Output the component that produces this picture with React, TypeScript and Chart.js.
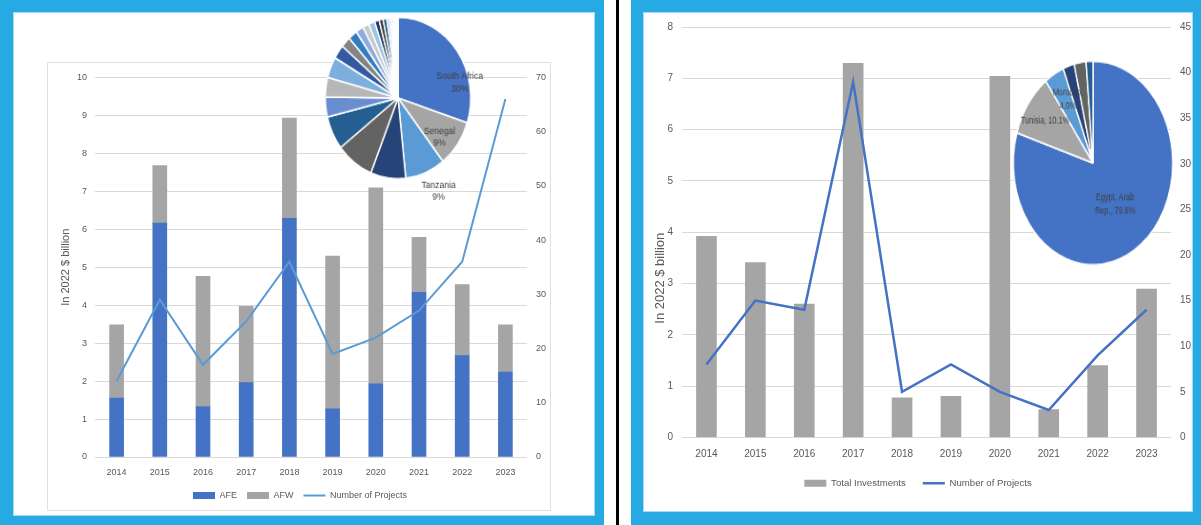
import React, { useEffect, useRef } from 'react';
import { Chart, registerables } from 'chart.js';

Chart.register(...registerables);

const FONT = "'Liberation Sans', Arial, sans-serif";
Chart.defaults.font.family = FONT;
Chart.defaults.color = '#595959';

// ---------- DATA ----------
const YEARS = ['2014', '2015', '2016', '2017', '2018', '2019', '2020', '2021', '2022', '2023'];

// Left panel (AFE / AFW)
const AFE_INVEST = [1.55, 6.16, 1.33, 1.96, 6.29, 1.27, 1.93, 4.34, 2.67, 2.24];
const AFW_INVEST = [1.93, 1.52, 3.43, 2.01, 2.64, 4.02, 5.16, 1.45, 1.87, 1.24];
const AF_PROJECTS = [14, 29, 17, 25, 36, 19, 22, 27, 36, 66];

// Right panel (North Africa)
const NA_TOTAL_INVEST = [3.92, 3.41, 2.6, 7.29, 0.77, 0.8, 7.04, 0.54, 1.4, 2.89];
const NA_PROJECTS = [8, 15, 14, 39, 5, 8, 5, 3, 9, 14];

// Left inset pie (country shares, %)
const AF_PIE_NAMES = [
  'South Africa', 'Senegal', 'Tanzania', 'Other 1', 'Other 2', 'Other 3', 'Other 4', 'Other 5',
  'Other 6', 'Other 7', 'Other 8', 'Other 9', 'Other 10', 'Other 11', 'Other 12', 'Other 13',
  'Other 14', 'Other 15', 'Other 16', 'Other 17', 'Other 18', 'Other 19', 'Other 20', 'Other 21', 'Other 22',
];
const AF_PIE_SHARES = [30, 9.4, 8.9, 7.8, 8.4, 6.7, 4.0, 3.9, 4.2, 2.8, 2.2, 2.0, 1.7, 1.4, 1.4, 1.0, 0.9, 0.8, 0.6, 0.5, 0.4, 0.3, 0.3, 0.2, 0.2];
const AF_PIE_COLORS = [
  '#4472C4', '#A5A5A5', '#5B9BD5', '#264478', '#636363', '#255E91', '#698ED0', '#B7B7B7', '#7CAFDD',
  '#335AA1', '#848484', '#327DC2', '#8FAADC', '#C9C9C9', '#9DC3E6', '#203864', '#3B3B3B', '#1E4E79',
  '#A9C1E9', '#DBDBDB', '#B5D2EE', '#2F5597', '#525252', '#2E75B6', '#D6E2F5',
];

// Right inset pie (country shares, %)
const NA_PIE_NAMES = ['Egypt, Arab Rep.', 'Tunisia', 'Morocco', 'Other 1', 'Other 2', 'Other 3'];
const NA_PIE_SHARES = [79.8, 10.1, 4.0, 2.3, 2.4, 1.4];
const NA_PIE_COLORS = ['#4472C4', '#A5A5A5', '#5B9BD5', '#264478', '#636363', '#255E91'];

const Y_TITLE = 'In 2022 $ billion';

// ---------- STYLE CONSTANTS ----------
const FRAME_BLUE = '#27AAE3';
const TICK_COLOR = '#595959';
const GRID_COLOR = '#D9D9D9';

type ComboCfg = {
  padTop: number; leftWidth: number; rightWidth: number; xHeight: number;
  font: number; legendFont: number; titleFont: number; titleX: number; titleDy: number;
  leftPad: number; rightPad: number; xPad: number; legendPad: number;
  yMax: number; yStep: number; y1Max: number; y1Step: number;
};

// draws the rotated y-axis title, centred on the plot area with an optional shift
const yTitlePlugin = {
  id: 'yTitle',
  afterDraw(chart: any, _args: any, o: any) {
    const ctx = chart.ctx;
    const ca = chart.chartArea;
    ctx.save();
    ctx.translate(o.x, (ca.top + ca.bottom) / 2 + o.dy);
    ctx.rotate(-Math.PI / 2);
    ctx.font = `${o.size}px ${FONT}`;
    ctx.fillStyle = TICK_COLOR;
    ctx.textAlign = 'center';
    ctx.textBaseline = 'middle';
    ctx.fillText(o.text, 0, 0);
    ctx.restore();
  },
};

function comboOptions(p: ComboCfg): any {
  return {
    responsive: false,
    animation: false,
    layout: { padding: { top: p.padTop, left: 0, right: 0, bottom: 0 } },
    plugins: {
      legend: {
        position: 'bottom',
        labels: {
          usePointStyle: true,
          pointStyleWidth: 22,
          boxHeight: 7,
          padding: p.legendPad,
          color: TICK_COLOR,
          font: { size: p.legendFont, family: FONT },
          sort: (a: any, b: any) => a.datasetIndex - b.datasetIndex,
        },
      },
      tooltip: { enabled: false },
      yTitle: { text: Y_TITLE, size: p.titleFont, x: p.titleX, dy: p.titleDy },
    },
    scales: {
      x: {
        stacked: true,
        grid: { display: false, drawTicks: false },
        border: { display: false },
        ticks: { color: TICK_COLOR, font: { size: p.font }, padding: p.xPad, maxRotation: 0, autoSkip: false },
        afterFit: (s: any) => { s.height = p.xHeight; },
      },
      y: {
        position: 'left',
        stacked: true,
        min: 0,
        max: p.yMax,
        ticks: { stepSize: p.yStep, color: TICK_COLOR, font: { size: p.font }, padding: p.leftPad },
        grid: { color: GRID_COLOR, lineWidth: 1, drawTicks: false },
        border: { display: false },
        afterFit: (s: any) => { s.width = p.leftWidth; },
      },
      y1: {
        position: 'right',
        min: 0,
        max: p.y1Max,
        ticks: { stepSize: p.y1Step, color: TICK_COLOR, font: { size: p.font }, padding: p.rightPad },
        grid: { display: false, drawTicks: false },
        border: { display: false },
        afterFit: (s: any) => { s.width = p.rightWidth; },
      },
    },
  };
}

function leftConfig(): any {
  return {
    type: 'bar',
    data: {
      labels: YEARS,
      datasets: [
        { label: 'AFE', data: AFE_INVEST, backgroundColor: '#4472C4', borderWidth: 0, barThickness: 14, yAxisID: 'y', pointStyle: 'rect', order: 1 },
        { label: 'AFW', data: AFW_INVEST, backgroundColor: '#A5A5A5', borderWidth: 0, barThickness: 14, yAxisID: 'y', pointStyle: 'rect', order: 1 },
        {
          type: 'line', label: 'Number of Projects', data: AF_PROJECTS, yAxisID: 'y1',
          borderColor: '#5B9BD5', backgroundColor: '#5B9BD5', borderWidth: 2, pointRadius: 0,
          pointStyle: 'line', tension: 0, order: -1,
        },
      ],
    },
    options: comboOptions({
      padTop: 12, leftWidth: 47, rightWidth: 25, xHeight: 24,
      font: 9, legendFont: 9, titleFont: 11, titleX: 18, titleDy: 0,
      leftPad: 8, rightPad: 9, xPad: 10, legendPad: 10,
      yMax: 10, yStep: 1, y1Max: 70, y1Step: 10,
    }),
    plugins: [yTitlePlugin],
  };
}

function rightConfig(): any {
  return {
    type: 'bar',
    data: {
      labels: YEARS,
      datasets: [
        { label: 'Total Investments', data: NA_TOTAL_INVEST, backgroundColor: '#A5A5A5', borderWidth: 0, barThickness: 20, yAxisID: 'y', pointStyle: 'rect', order: 1 },
        {
          type: 'line', label: 'Number of Projects', data: NA_PROJECTS, yAxisID: 'y1',
          borderColor: '#4472C4', backgroundColor: '#4472C4', borderWidth: 2.5, pointRadius: 0,
          pointStyle: 'line', tension: 0, order: -1,
        },
      ],
    },
    options: comboOptions({
      padTop: 14, leftWidth: 39, rightWidth: 22, xHeight: 24,
      font: 10, legendFont: 9.6, titleFont: 13, titleX: 17, titleDy: 46,
      leftPad: 9, rightPad: 9, xPad: 11, legendPad: 17,
      yMax: 8, yStep: 1, y1Max: 45, y1Step: 5,
    }),
    plugins: [yTitlePlugin],
  };
}

// ---------- PIE LABEL PLUGIN ----------
const pieLabelPlugin = {
  id: 'pieLabels',
  afterDatasetsDraw(chart: any, _args: any, opts: any) {
    const meta = chart.getDatasetMeta(0);
    const ctx = chart.ctx;
    ctx.save();
    ctx.fillStyle = opts.color;
    ctx.font = `${opts.size}px ${FONT}`;
    ctx.textAlign = 'center';
    ctx.textBaseline = 'middle';
    for (const l of opts.items || []) {
      const arc = meta.data[l.index];
      if (!arc) continue;
      const { x, y, startAngle, endAngle, outerRadius } = arc.getProps(['x', 'y', 'startAngle', 'endAngle', 'outerRadius'], true);
      const a = (startAngle + endAngle) / 2 + (l.shift * Math.PI) / 180;
      const cx = x + Math.cos(a) * outerRadius * l.frac;
      const cy = y + Math.sin(a) * outerRadius * l.frac;
      const n = l.lines.length;
      l.lines.forEach((t: string, k: number) => ctx.fillText(t, cx, cy + (k - (n - 1) / 2) * opts.lineHeight));
    }
    ctx.restore();
  },
};

const pct0 = (v: number) => `${Math.round(v)}%`;
const pct1 = (v: number) => `${v.toFixed(1)}%`;

const AF_PIE_LABELS = [
  { index: 0, frac: 0.87, shift: 23.4, lines: [AF_PIE_NAMES[0], pct0(AF_PIE_SHARES[0])] },
  { index: 1, frac: 0.75, shift: 5.7, lines: [AF_PIE_NAMES[1], pct0(AF_PIE_SHARES[1])] },
  { index: 2, frac: 1.28, shift: -3.7, lines: [AF_PIE_NAMES[2], pct0(AF_PIE_SHARES[2])] },
];
const NA_PIE_LABELS = [
  { index: 0, frac: 0.49, shift: 2, lines: ['Egypt, Arab', `Rep., ${pct1(NA_PIE_SHARES[0])}`] },
  { index: 1, frac: 0.73, shift: -1.1, lines: [`${NA_PIE_NAMES[1]}, ${pct1(NA_PIE_SHARES[1])}`] },
  { index: 2, frac: 0.7, shift: 2.3, lines: [`${NA_PIE_NAMES[2]},`, pct1(NA_PIE_SHARES[2])] },
];

function pieConfig(names: string[], values: number[], colors: string[], pad: number, labels: any[], size: number, lineHeight: number): any {
  return {
    type: 'pie',
    data: {
      labels: names,
      datasets: [{ data: values, backgroundColor: colors, borderColor: '#FFFFFF', borderWidth: 1.5 }],
    },
    options: {
      responsive: false,
      animation: false,
      layout: { padding: pad },
      plugins: {
        legend: { display: false },
        tooltip: { enabled: false },
        pieLabels: { items: labels, color: '#404040', size, lineHeight },
      },
    },
    plugins: [pieLabelPlugin],
  };
}

// ---------- COMPONENTS ----------
function ChartCanvas({ left, top, width, height, build, transform }: {
  left: number; top: number; width: number; height: number; build: () => any; transform?: string;
}) {
  const ref = useRef<HTMLCanvasElement>(null);
  useEffect(() => {
    const chart = new Chart(ref.current as HTMLCanvasElement, build());
    return () => chart.destroy();
  }, []);
  return (
    <canvas
      ref={ref}
      width={width}
      height={height}
      style={{
        position: 'absolute', left, top, width, height,
        transform, transformOrigin: '50% 50%',
      }}
    />
  );
}

export default function App() {
  return (
    <div style={{ position: 'absolute', left: 0, top: 0, width: 1201, height: 525, background: '#FFFFFF', overflow: 'hidden' }}>
      {/* Left panel frame */}
      <div style={{ position: 'absolute', left: 0, top: 0, width: 604, height: 525, background: FRAME_BLUE }} />
      <div style={{ position: 'absolute', left: 13, top: 12, width: 582, height: 504, background: '#FFFFFF', boxShadow: 'inset 0 0 0 1px #A6DCF4' }} />
      <div style={{ position: 'absolute', left: 47, top: 62, width: 504, height: 449, boxSizing: 'border-box', border: '1px solid #E0E0E0' }} />

      {/* Divider */}
      <div style={{ position: 'absolute', left: 616, top: 0, width: 3, height: 525, background: '#000000' }} />

      {/* Right panel frame */}
      <div style={{ position: 'absolute', left: 631, top: 0, width: 570, height: 525, background: FRAME_BLUE }} />
      <div style={{ position: 'absolute', left: 643, top: 12, width: 550, height: 500, background: '#FFFFFF', boxShadow: 'inset 0 0 0 1px #A6DCF4' }} />

      {/* Charts */}
      <ChartCanvas left={48} top={63} width={504} height={447} build={leftConfig} />
      <ChartCanvas
        left={287.5} top={-12.5} width={220} height={220}
        transform="scale(0.954, 1.059)"
        build={() => pieConfig(AF_PIE_NAMES, AF_PIE_SHARES, AF_PIE_COLORS, 33, AF_PIE_LABELS, 9, 11.3)}
      />

      <ChartCanvas left={643} top={12} width={550} height={486} build={rightConfig} />
      <ChartCanvas
        left={973} top={43} width={240} height={240}
        transform="scale(0.883, 1.128)"
        build={() => pieConfig(NA_PIE_NAMES, NA_PIE_SHARES, NA_PIE_COLORS, 29, NA_PIE_LABELS, 8.3, 11.5)}
      />
    </div>
  );
}
